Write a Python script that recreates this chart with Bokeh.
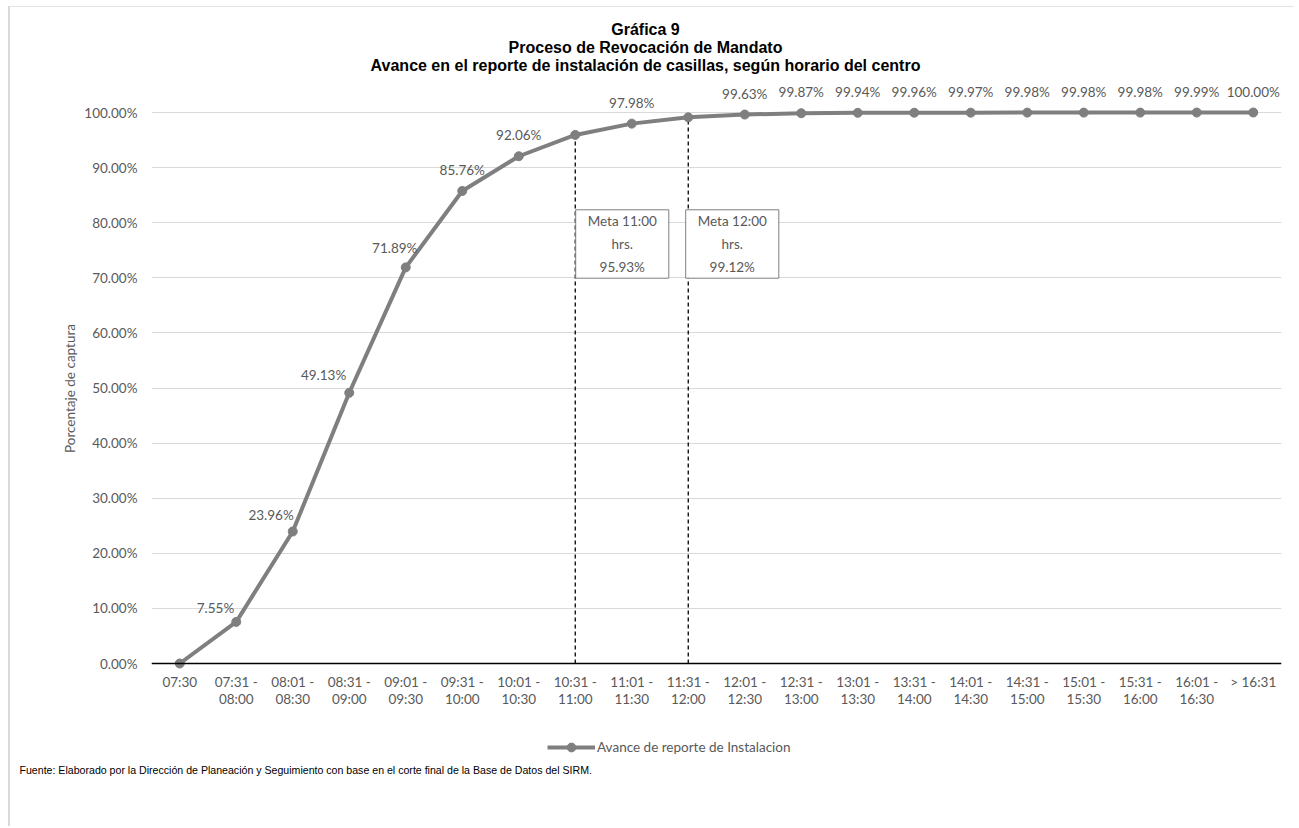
from bokeh.plotting import figure
from bokeh.models import (Range1d, FixedTicker, PrintfTickFormatter, Label, Title,
                          ColumnDataSource, Legend, LegendItem)
from bokeh.core.properties import value
from bokeh.embed import file_html
from bokeh.resources import INLINE

# ---------------- data ----------------
categories = ["07:30", "07:31 -\n08:00", "08:01 -\n08:30", "08:31 -\n09:00",
              "09:01 -\n09:30", "09:31 -\n10:00", "10:01 -\n10:30", "10:31 -\n11:00",
              "11:01 -\n11:30", "11:31 -\n12:00", "12:01 -\n12:30", "12:31 -\n13:00",
              "13:01 -\n13:30", "13:31 -\n14:00", "14:01 -\n14:30", "14:31 -\n15:00",
              "15:01 -\n15:30", "15:31 -\n16:00", "16:01 -\n16:30", "> 16:31"]
avance = [0.00, 7.55, 23.96, 49.13, 71.89, 85.76, 92.06, 95.93, 97.98, 99.12,
          99.63, 99.87, 99.94, 99.96, 99.97, 99.98, 99.98, 99.98, 99.99, 100.00]
y_ticks = [0, 10, 20, 30, 40, 50, 60, 70, 80, 90, 100]
meta_index = [7, 9]
meta_hours = ["11:00", "12:00"]
series_name = "Avance de reporte de Instalacion"
title_lines = ["Gráfica 9",
               "Proceso de Revocación de Mandato",
               "Avance en el reporte de instalación de casillas, según horario del centro"]
y_title = "Porcentaje de captura"
source_note = ("Fuente: Elaborado por la Dirección de Planeación y Seguimiento con base "
               "en el corte final de la Base de Datos del SIRM.")

# ---------------- style / layout ----------------
FONT = "Lato"
GRAY_TXT = "#595959"
LINE_C = "#7f7f7f"
FS = "13.5px"
FRAME_LEFT = 152      # page x of plot frame's left edge
FRAME_TOP = 15        # page y of the frame's top (frame also holds the titles)
FRAME_BOTTOM = 763    # page y of the frame's bottom (frame also holds the legend)
ZERO_Y = 663          # page y of the 0% line
PX_PER_PCT = 5.51
TITLE_CENTER = 646    # page x where the title is centred

x_idx = list(range(len(categories)))
y_start = -(FRAME_BOTTOM - ZERO_Y) / PX_PER_PCT
y_end = (ZERO_Y - FRAME_TOP) / PX_PER_PCT

p = figure(width=1286, height=820, output_backend="svg", toolbar_location=None,
           x_range=Range1d(-0.5, len(categories) - 0.5),
           y_range=Range1d(y_start, y_end),
           min_border_left=141, min_border_right=15, min_border_top=FRAME_TOP - 7,
           min_border_bottom=64, title=None)
p.outline_line_color = None
p.background_fill_color = "white"
p.border_fill_color = "white"
p.styles = {"margin-left": "8px", "margin-top": "6px",
            "border-left": "2px solid #d9d9d9", "border-top": "1px solid #e3e3e3"}

# x axis drawn at the 0 % line
p.xaxis.fixed_location = 0
p.xaxis.ticker = FixedTicker(ticks=x_idx)
p.xaxis.major_label_overrides = {i: c for i, c in zip(x_idx, categories)}
p.xaxis.axis_line_color = "black"
p.xaxis.axis_line_width = 1.5
p.xaxis.major_tick_line_color = None
p.xaxis.minor_tick_line_color = None
p.xaxis.major_tick_out = 0
p.xaxis.major_tick_in = 0
p.xaxis.major_label_standoff = 10
p.xaxis.major_label_text_font = FONT
p.xaxis.major_label_text_font_size = FS
p.xaxis.major_label_text_color = GRAY_TXT
p.xaxis.major_label_text_line_height = 1.12

p.yaxis.ticker = FixedTicker(ticks=y_ticks)
p.yaxis.formatter = PrintfTickFormatter(format="%.2f%%")
p.yaxis.axis_line_color = None
p.yaxis.major_tick_line_color = None
p.yaxis.minor_tick_line_color = None
p.yaxis.major_tick_out = 0
p.yaxis.major_tick_in = 0
p.yaxis.major_label_standoff = 14
p.yaxis.major_label_text_font = FONT
p.yaxis.major_label_text_font_size = FS
p.yaxis.major_label_text_color = GRAY_TXT

p.xgrid.grid_line_color = None
p.ygrid.ticker = FixedTicker(ticks=y_ticks)
p.ygrid.grid_line_color = "#d9d9d9"
p.ygrid.grid_line_width = 1

# y-axis title, centred on the 0-100 % span
p.add_layout(Title(text=y_title, align="left",
                   offset=FRAME_BOTTOM - (ZERO_Y - 50 * PX_PER_PCT) - 65,
                   standoff=8, text_font=FONT, text_font_size=FS,
                   text_font_style="normal", text_color=GRAY_TXT), "left")

# goal dashed lines
p.segment(x0=meta_index, y0=[0] * len(meta_index), x1=meta_index,
          y1=[avance[i] for i in meta_index], line_color="black",
          line_width=1.3, line_dash="4 3")

# series
r_line = p.line(x_idx, avance, line_color=LINE_C, line_width=4)
r_pts = p.scatter(x_idx, avance, size=9, marker="circle", fill_color=LINE_C,
                  line_color=LINE_C)

# data labels
lab_x, lab_y, lab_t, lab_dx, lab_dy, lab_al = [], [], [], [], [], []
special = {1: (-2, -14, "right"), 2: (1, -16, "right"), 3: (-3, -18, "right"),
           4: (-11, -19, "center")}
for i, v in zip(x_idx, avance):
    if i == 0 or i in meta_index:
        continue
    dx, dy, al = special.get(i, (0, -21, "center"))
    lab_x.append(i); lab_y.append(v); lab_t.append(f"{v:.2f}%")
    lab_dx.append(dx); lab_dy.append(dy); lab_al.append(al)
src = ColumnDataSource(dict(x=lab_x, y=lab_y, t=lab_t, dx=lab_dx, dy=lab_dy, al=lab_al))
p.text(x="x", y="y", text="t", x_offset="dx", y_offset="dy", text_align="al",
       text_baseline="middle", text_font=value(FONT), text_font_size=FS,
       text_color=GRAY_TXT, source=src)

# goal boxes
for i, h, dx in zip(meta_index, meta_hours, [47, 44]):
    p.add_layout(Label(x=i, y=0, x_offset=dx, y_offset=419.5,
                       text=f"Meta {h}\nhrs.\n{avance[i]:.2f}%",
                       text_align="center", text_baseline="middle",
                       text_font=FONT, text_font_size=FS, text_color=GRAY_TXT,
                       text_line_height=1.45,
                       border_line_color="#7f7f7f", border_line_width=1,
                       background_fill_color="white",
                       padding=dict(left=12, right=12, top=3, bottom=3)))

# chart title (three centred lines, inside the extended frame)
p.add_layout(Label(x=-0.5, y=0, x_offset=TITLE_CENTER - FRAME_LEFT,
                   y_offset=ZERO_Y - 20.5, text="\n".join(title_lines),
                   text_align="center", text_baseline="top",
                   text_font="Liberation Sans", text_font_size="16px",
                   text_line_height=1.06, text_font_style="bold",
                   text_color="black"))

# legend inside the (extended) frame, under the axis labels
legend = Legend(items=[LegendItem(label=series_name, renderers=[r_line, r_pts])],
                location=(548 - FRAME_LEFT, 5), orientation="horizontal",
                padding=0, margin=0, spacing=0, glyph_width=48, glyph_height=22,
                label_standoff=2, label_height=14,
                label_text_font=FONT, label_text_font_size=FS,
                label_text_color=GRAY_TXT, border_line_color=None,
                background_fill_alpha=0)
p.add_layout(legend, "center")

# source note, placed right under the frame (before the axis panel)
note = Title(text=source_note, align="left", offset=20 - FRAME_LEFT,
             standoff=0, vertical_align="top",
             text_font="Liberation Sans", text_font_size="10.6px",
             text_font_style="normal", text_color="black")
p.below = [note] + list(p.below)

open("out.html", "w").write(file_html(p, INLINE))
